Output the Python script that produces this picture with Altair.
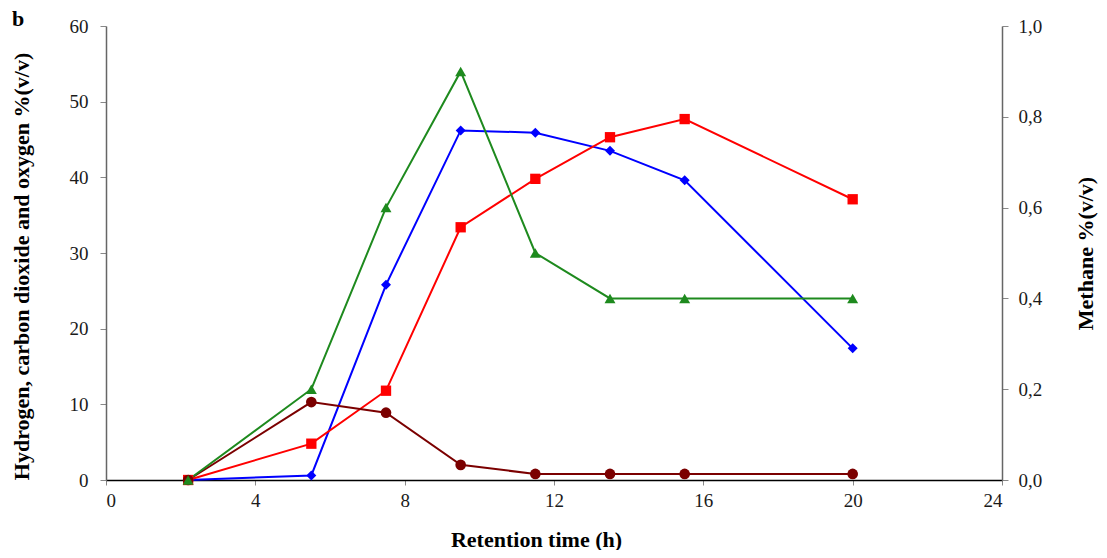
import altair as alt
import pandas as pd

# Data (left axis units, % v/v)
time_h = [2.2, 5.5, 7.5, 9.5, 11.5, 13.5, 15.5, 20.0]
blue_diamond = [0.0, 0.6, 25.8, 46.2, 45.9, 43.5, 39.6, 17.4]
red_square = [0.0, 4.8, 11.8, 33.4, 39.8, 45.3, 47.7, 37.1]
darkred_circle = [0.0, 10.3, 8.9, 2.0, 0.8, 0.8, 0.8, 0.8]
green_triangle = [0.0, 12.0, 36.0, 54.0, 30.0, 24.0, 24.0, 24.0]

series_names = ["blue", "red", "darkred", "green"]
series_colors = ["#0000FF", "#FF0000", "#7B0000", "#1E8A1E"]
series_shapes = ["diamond", "square", "circle", "triangle-up"]
series_sizes = [100, 120, 115, 115]

x_ticks = [0, 4, 8, 12, 16, 20, 24]
left_ticks = [0, 10, 20, 30, 40, 50, 60]
right_ticks = [0.0, 0.2, 0.4, 0.6, 0.8, 1.0]
panel_label = ["b"]

rows = []
for name, vals in zip(series_names, [blue_diamond, red_square, darkred_circle, green_triangle]):
    for t, v in zip(time_h, vals):
        rows.append({"t": t, "v": v, "s": name})
df = pd.DataFrame(rows)
right_df = pd.DataFrame({"m": right_ticks})
label_df = pd.DataFrame({"lbl": panel_label})

FONT = "Liberation Serif"

x_enc = alt.X(
    "t:Q",
    scale=alt.Scale(domain=[0, 24], nice=False),
    axis=alt.Axis(
        values=x_ticks, title="Retention time (h)", titlePadding=19, titleX=430,
        domainColor="#000000", domainWidth=1.5, tickColor="#888888", tickSize=5,
        labelPadding=6,
    ),
)
y_enc = alt.Y(
    "v:Q",
    scale=alt.Scale(domain=[0, 60], nice=False),
    axis=alt.Axis(
        values=left_ticks, title="Hydrogen, carbon dioxide and oxygen %(v/v)",
        titlePadding=36, titleY=240, domainColor="#666666", domainWidth=1.5,
        tickColor="#888888", tickSize=6, labelPadding=12,
    ),
)
color_enc = alt.Color("s:N", scale=alt.Scale(domain=series_names, range=series_colors), legend=None)

lines = alt.Chart(df).mark_line(strokeWidth=2).encode(
    x=x_enc, y=y_enc, color=color_enc, detail="s:N"
)
points = alt.Chart(df).mark_point(filled=True, opacity=1).encode(
    x=alt.X("t:Q"), y=alt.Y("v:Q"),
    color=color_enc,
    shape=alt.Shape("s:N", scale=alt.Scale(domain=series_names, range=series_shapes), legend=None),
    size=alt.Size("s:N", scale=alt.Scale(domain=series_names, range=series_sizes), legend=None),
)
panel = alt.Chart(label_df).mark_text(
    font=FONT, fontSize=22, fontWeight="bold", color="#000000", align="left", baseline="alphabetic"
).encode(text="lbl:N", x=alt.value(-94), y=alt.value(0))
left_layer = alt.layer(lines, points, panel)

right_layer = alt.Chart(right_df).mark_point(opacity=0).encode(
    x=alt.value(0),
    y=alt.Y(
        "m:Q",
        scale=alt.Scale(domain=[0, 1], nice=False),
        axis=alt.Axis(
            orient="right", values=right_ticks, title="Methane %(v/v)",
            labelExpr="replace(format(datum.value, '.1f'), '.', ',')",
            titlePadding=34, titleAngle=270, titleBaseline="top",
            domainColor="#666666", domainWidth=1.5,
            tickColor="#888888", tickSize=6, labelPadding=10,
        ),
    ),
)

chart = (
    alt.layer(left_layer, right_layer)
    .resolve_scale(y="independent")
    .properties(
        width=896, height=454,
        autosize=alt.AutoSizeParams(type="none"),
        padding={"left": 98, "top": 18, "right": 97, "bottom": 70},
    )
    .configure_view(stroke=None)
    .configure_axis(
        grid=False, labelFont=FONT, labelFontSize=19, labelColor="#1a1a1a",
        titleFont=FONT, titleFontSize=22, titleFontWeight="bold", titleColor="#000000",
    )
)

chart.save("out.html", embed_options={"renderer": "svg", "actions": False})
